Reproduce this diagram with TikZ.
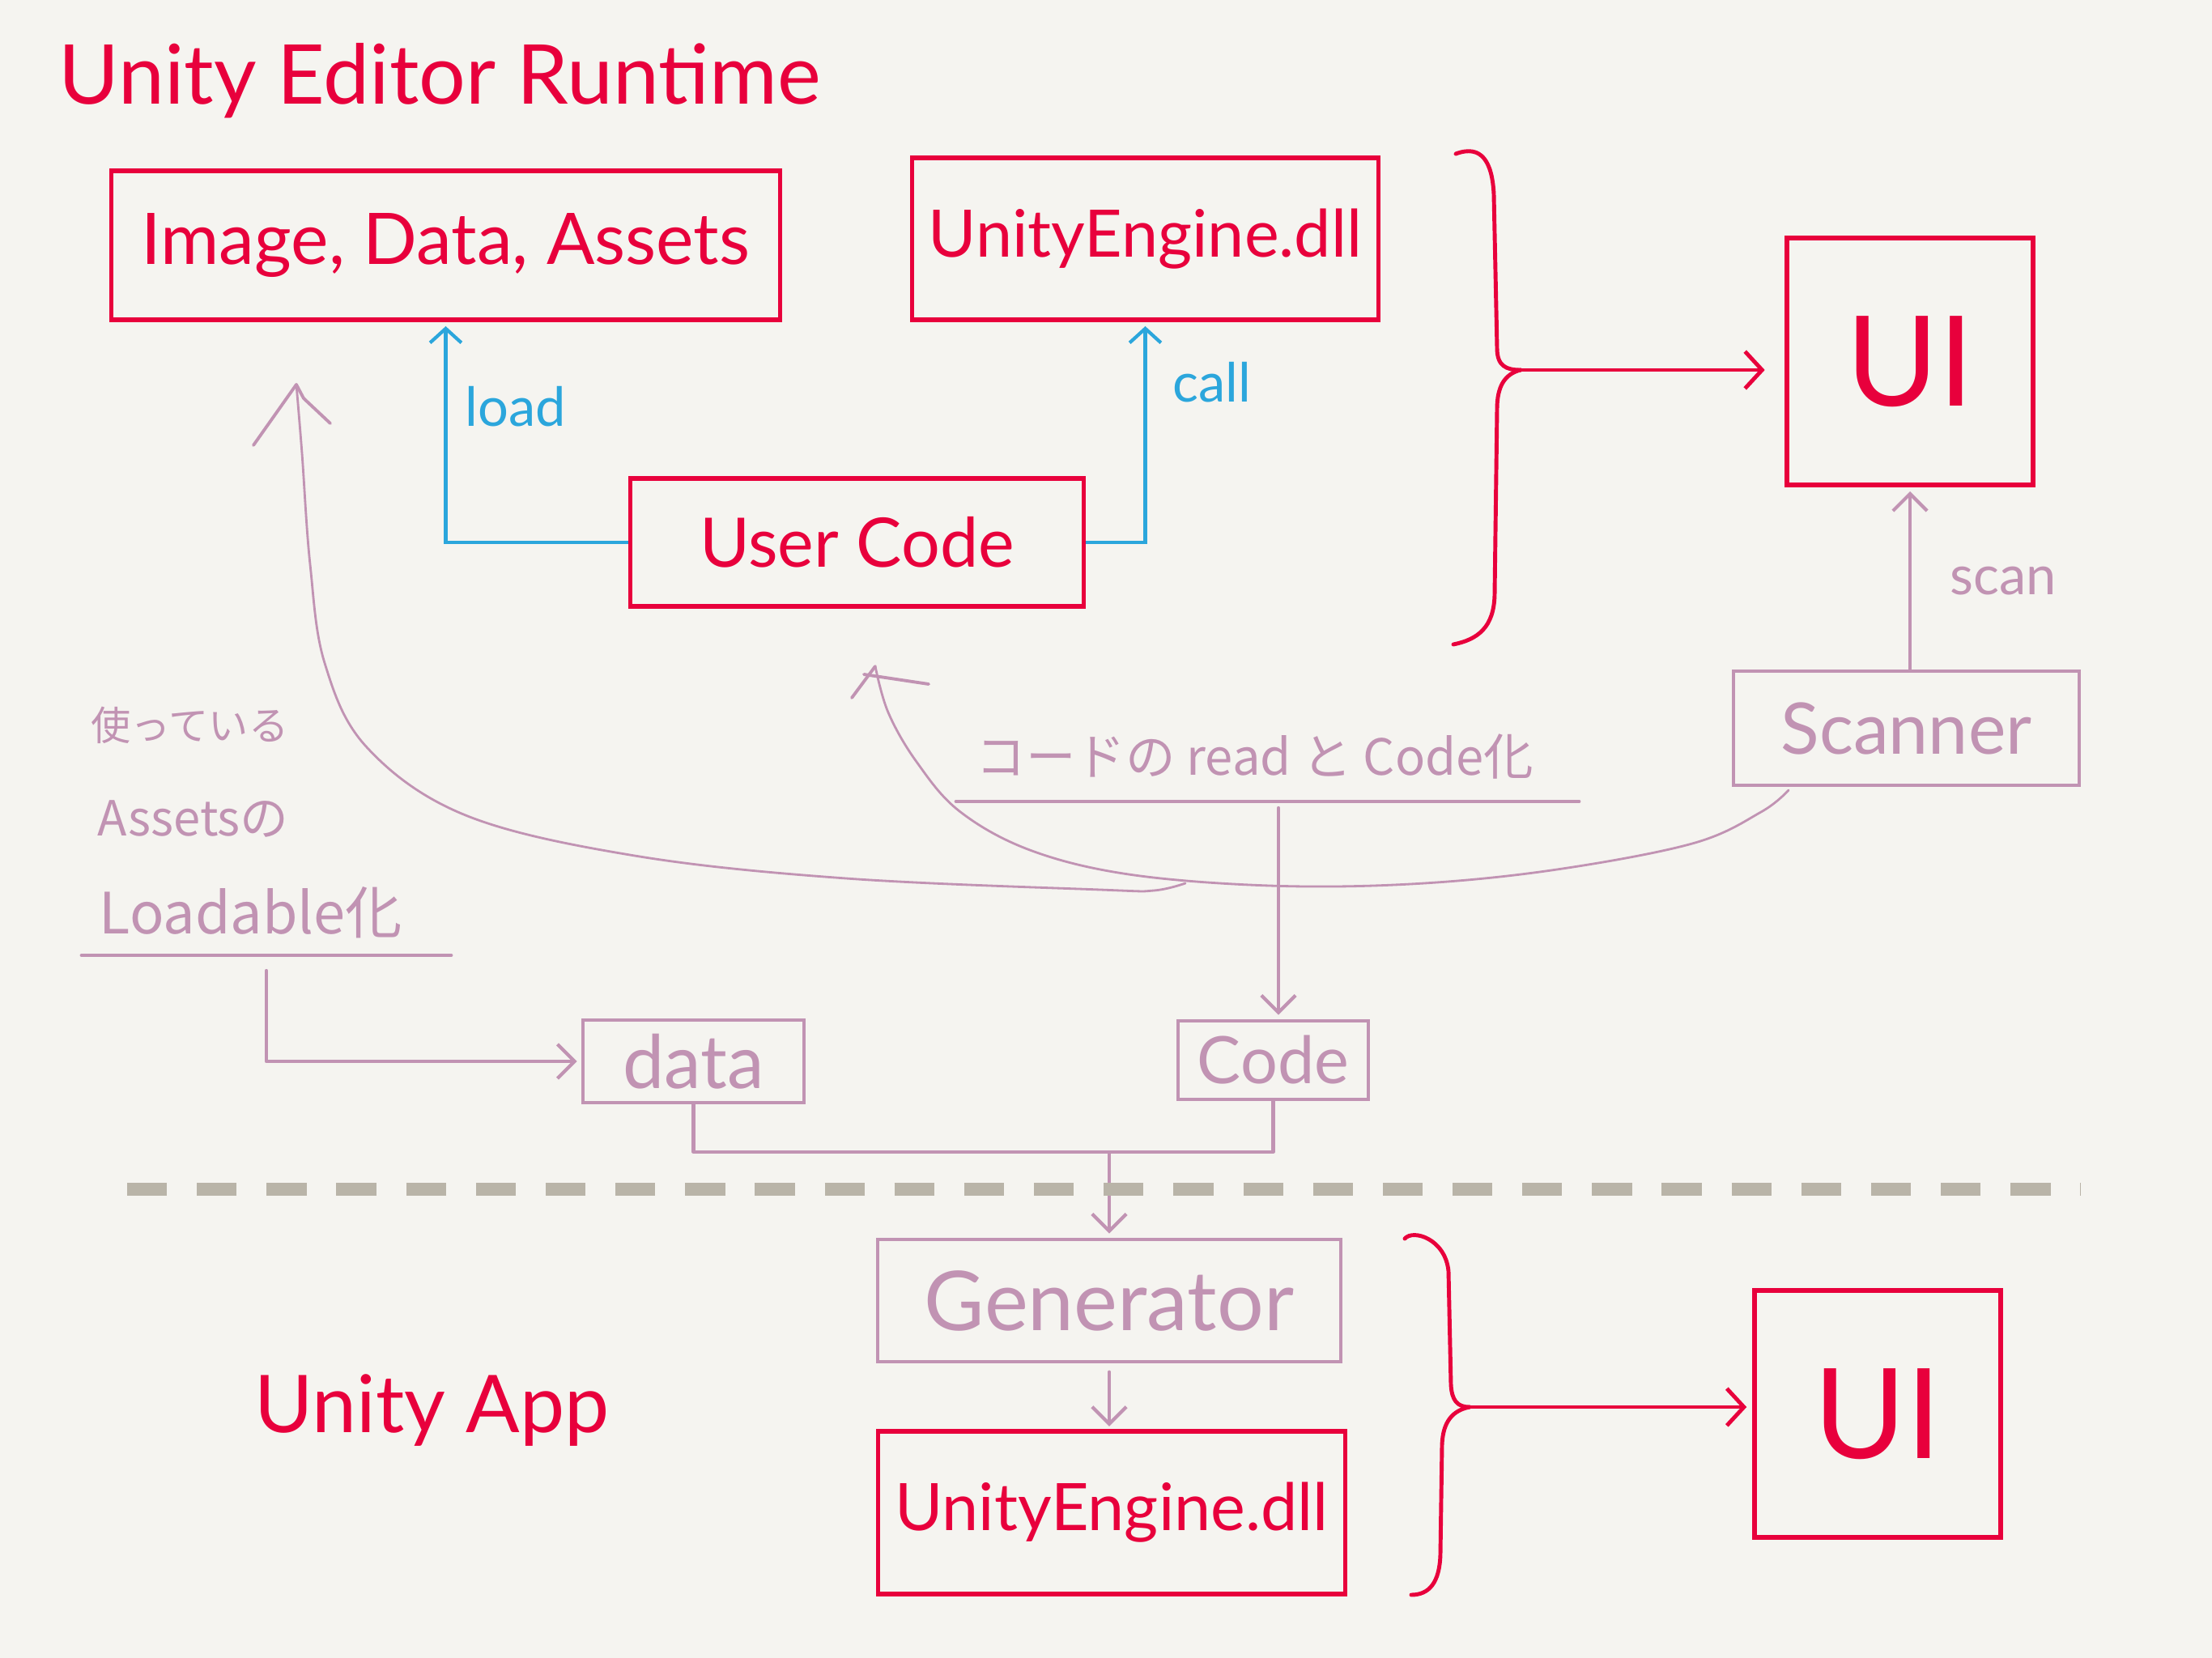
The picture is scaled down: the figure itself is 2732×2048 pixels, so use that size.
\documentclass[tikz,border=0pt]{standalone}
\usepackage{fontspec}
\setmainfont{Lato}
\newfontfamily\jpfont{Noto Sans CJK JP}
\usetikzlibrary{arrows.meta}
\definecolor{bg}{HTML}{F5F4F0}
\definecolor{inkred}{HTML}{E8003C}
\definecolor{inkblue}{HTML}{2BA6DC}
\definecolor{inkpurple}{HTML}{C193B3}
\definecolor{inkgray}{HTML}{B9B4A8}
\newcommand\sz[1]{\fontsize{#1}{#1}\selectfont}
\tikzset{
  redbox/.style={draw=inkred, line width=1.5pt, text=inkred, inner sep=0pt},
  purbox/.style={draw=inkpurple, line width=1.2pt, text=inkpurple, inner sep=0pt},
  redline/.style={draw=inkred, line width=1.4pt, line cap=round, line join=round},
  purline/.style={draw=inkpurple, line width=1.2pt, line cap=round, line join=round},
  thinpur/.style={draw=inkpurple, line width=0.8pt, line cap=round, line join=round},
  bluearrow/.style={draw=inkblue, line width=1.2pt, -{Straight Barb[length=5pt,width=11pt,line width=1.2pt]}, shorten >=1.5pt},
  redarrow/.style={redline, -{Straight Barb[length=6pt,width=13pt,line width=1.4pt]}},
  purarrow/.style={purline, -{Straight Barb[length=6pt,width=12pt,line width=1.2pt]}},
  redlabel/.style={text=inkred, inner sep=0pt},
  bluelabel/.style={text=inkblue, inner sep=0pt},
  purlabel/.style={text=inkpurple, inner sep=0pt},
  sepline/.style={draw=inkgray, line width=4.5pt, dash pattern=on 14pt off 10.5pt}
}
\begin{document}
\begin{tikzpicture}[x=0.01cm, y=-0.01cm]
\fill[bg] (0,0) rectangle (2732,2048);
\useasboundingbox (0,0) rectangle (2732,2048);

% ---- title
\node[redlabel, anchor=west] (title) at (72,100) {\sz{29pt}Unity Editor Runtime};

% ---- top boxes
\node[redbox, minimum width=8.25cm, minimum height=1.84cm] (img) at (550.5,303) {\sz{25pt}Image, Data, Assets};
\node[redbox, minimum width=5.75cm, minimum height=2.00cm] (ue) at (1414.5,295) {\sz{23pt}UnityEngine.dll};
\node[redbox, minimum width=5.59cm, minimum height=1.58cm] (uc) at (1058.5,670) {\sz{24pt}User Code};
\node[redbox, minimum width=3.04cm, minimum height=3.05cm] (ui1) at (2359,446.5) {\sz{44pt}UI};

% ---- load / call
\draw[bluearrow] (uc.west) -| (img.south);
\draw[bluearrow] (uc.east) -| (ue.south);
\node[bluelabel] (load) at (637,502) {\sz{19pt}load};
\node[bluelabel] (call) at (1497,472) {\sz{19pt}call};

% ---- top brace
\coordinate (b1tip) at (1878,457);
\draw[redline] (1798,190) .. controls (1830,178) and (1843,200) .. (1845,240) -- (1849,430) .. controls (1849,452) and (1860,457) .. (b1tip);
\draw[redline] (b1tip) .. controls (1858,462) and (1849,478) .. (1849,505) -- (1846,735) .. controls (1845,775) and (1825,790) .. (1795,796);
\draw[redarrow, shorten >=7pt] (b1tip) -- (b1tip -| ui1.west);

% ---- scanner
\node[purbox, minimum width=4.27cm, minimum height=1.41cm] (scanner) at (2354.5,899.5) {\sz{25pt}Scanner};
\draw[purarrow, shorten >=1.5pt] (scanner.north -| ui1.south) -- (ui1.south);
\node[purlabel] (scan) at (2474,718) {\sz{19pt}scan};

% ---- left annotation
\node[purlabel, anchor=west] (ann1) at (112,896) {\jpfont\sz{14pt}使っている};
\node[purlabel, anchor=west] (ann2) at (120,1012) {\jpfont\sz{17pt}Assetsの};
\node[purlabel, anchor=west] (ann3) at (122,1127) {\jpfont\sz{20pt}Loadable化};
\coordinate (ul1a) at (101,1180);
\coordinate (ul1b) at (557,1180);
\draw[purline, line width=1.4pt] (ul1a) -- (ul1b);

% ---- code annotation
\node[purlabel] (ann4) at (1550,935) {\jpfont\sz{17.5pt}コードの read と Code化};
\coordinate (ul2a) at (1181,990);
\coordinate (ul2b) at (1950,990);
\draw[purline, line width=1.4pt] (ul2a) -- (ul2b);

% ---- data / code boxes
\node[purbox, minimum width=2.73cm, minimum height=1.02cm] (data) at (856.5,1311) {\sz{26pt}data};
\node[purbox, minimum width=2.35cm, minimum height=0.97cm] (code) at (1572.5,1309.5) {\sz{23pt}Code};
\coordinate (lstart) at (329,1199);
\draw[purarrow, shorten >=1.5pt] (lstart) |- (data.west);
\coordinate (cstart) at (1579,998);
\draw[purarrow, shorten >=1.5pt] (cstart) -- (cstart |- code.north);

% ---- curves (hand-drawn arrows)
\coordinate (c1tip) at (366,475);
\draw[thinpur] plot[smooth, tension=0.6] coordinates {(1464,1091) (1425,1100) (1359,1099) (1045,1085) (784,1057) (575,1007) (453,923) (401,819) (383,697) (373,560) (c1tip)};
\draw[thinpur, line width=1.1pt] (313,550) -- (c1tip) -- (375,492) -- (408,523);
\coordinate (c2tip) at (1081,823);
\draw[thinpur] plot[smooth, tension=0.6] coordinates {(2209,976) (2175,1003) (2090,1042) (1916,1075) (1742,1092) (1568,1094) (1394,1080) (1272,1050) (1185,1002) (1132,941) (1097,880) (c2tip)};
\draw[thinpur, line width=1.1pt] (1052,862) -- (c2tip);
\draw[thinpur, line width=1.1pt] (1067,833) -- (1147,845);

% ---- merge to generator
\coordinate (mrg) at (1370,1423);
\draw[purline] (data.south) |- (mrg) -| (code.south);
\node[purbox, minimum width=5.72cm, minimum height=1.51cm] (gen) at (1370,1606.5) {\sz{29pt}Generator};
\draw[purarrow, shorten >=1.5pt] (mrg) -- (gen.north);

% ---- separator
\coordinate (sepl) at (157,1469);
\coordinate (sepr) at (2570,1469);
\draw[sepline] (sepl) -- (sepr);

% ---- bottom part
\node[redlabel, anchor=west] (app) at (314,1742) {\sz{28pt}Unity App};
\node[redbox, minimum width=5.76cm, minimum height=2.01cm] (ue2) at (1373,1868.5) {\sz{23pt}UnityEngine.dll};
\draw[purarrow, shorten <=3pt, shorten >=1pt] (gen.south) -- (gen.south |- ue2.north);
\node[redbox, minimum width=3.04cm, minimum height=3.05cm] (ui2) at (2319,1746.5) {\sz{44pt}UI};
\coordinate (b2tip) at (1815,1738);
\draw[redline] (1735,1530) .. controls (1745,1518) and (1785,1530) .. (1789,1570) -- (1792,1710) .. controls (1793,1730) and (1800,1738) .. (b2tip);
\draw[redline] (b2tip) .. controls (1795,1742) and (1782,1755) .. (1781,1785) -- (1779,1920) .. controls (1778,1955) and (1765,1970) .. (1743,1970);
\draw[redarrow, shorten >=2pt] (b2tip) -- (b2tip -| ui2.west);
\end{tikzpicture}
\end{document}
